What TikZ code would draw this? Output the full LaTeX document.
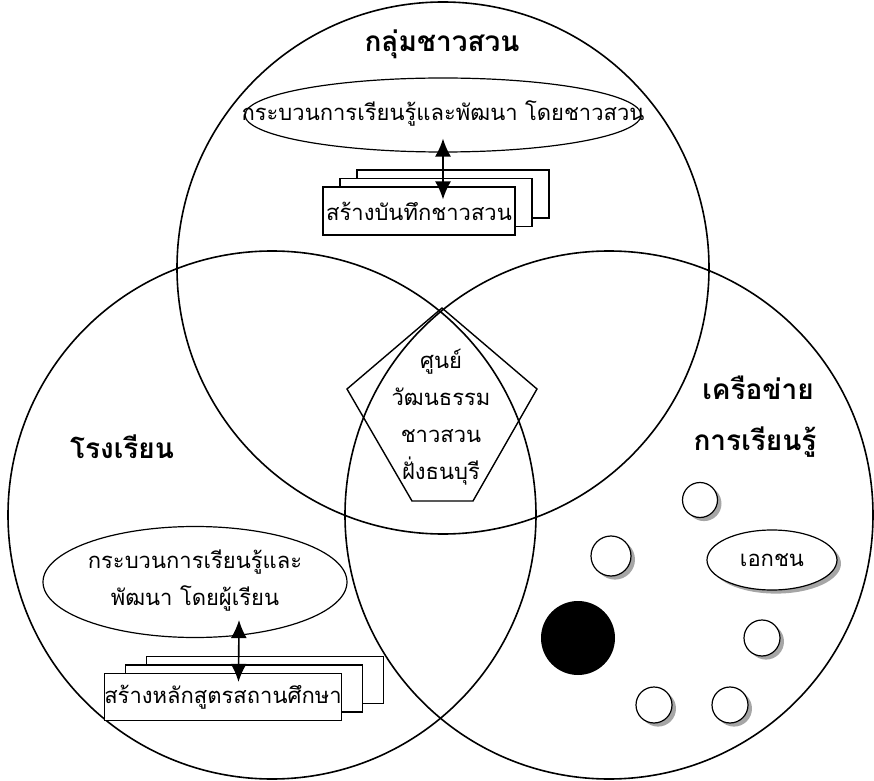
\documentclass[tikz,border=0pt]{standalone}
\usepackage{fontspec}
\newfontfamily\thaifont[Script=Thai]{Loma}
\usetikzlibrary{arrows.meta}
\usetikzlibrary{shapes.geometric}
\usetikzlibrary{shadows}

\tikzset{
  ring/.style={line width=0.8pt},
  heading/.style={font=\thaifont\bfseries\fontsize{14}{26}\selectfont},
  body/.style={font=\thaifont\fontsize{11}{18.5}\selectfont, align=center, inner sep=0pt},
  bubble/.style={draw, ellipse, line width=0.6pt, inner sep=0pt},
  twoway/.style={{Latex[length=9pt,width=8pt]}-{Latex[length=9pt,width=8pt]}, line width=0.8pt},
  pile/.style 2 args={draw, fill=white, line width=0.6pt, inner sep=0pt,
    general shadow={shadow xshift=2*#1, shadow yshift=2*#2, draw, fill=white},
    general shadow={shadow xshift=#1, shadow yshift=#2, draw, fill=white}},
  fuzz/.style={drop shadow={shadow xshift=2pt, shadow yshift=-1.8pt, fill=black!35, opacity=1}},
  dot/.style={circle, draw, fill=white, line width=0.6pt, minimum size=#1, inner sep=0pt, fuzz},
  dot/.default=18pt
}

\begin{document}
\begin{tikzpicture}[x=0.5pt,y=-0.5pt]
    \useasboundingbox (0,0) rectangle (874,781);
    \def\rT{133pt} % top circle
    \def\rS{132pt} % lower circles
    \coordinate (cT) at (443,268);
    \coordinate (cL) at (272,515);
    \coordinate (cR) at (609,515);
    \draw[ring] (cT) circle[radius=\rT];
    \draw[ring] (cL) circle[radius=\rS];
    \draw[ring] (cR) circle[radius=\rS];

    % centre pentagon
    \coordinate (p1) at (442,308);
    \coordinate (p2) at (537,389);
    \coordinate (p3) at (473,501);
    \coordinate (p4) at (412,501);
    \coordinate (p5) at (347,389);
    \draw[line width=0.7pt] (p1) -- (p2) -- (p3) -- (p4) -- (p5) -- cycle;
    \node[body] (centre) at (441,417) {ศูนย์\\วัฒนธรรม\\ชาวสวน\\ฝั่งธนบุรี};

    % gardeners
    \node[heading] (gardeners) at (442,44) {กลุ่มชาวสวน};
    \node[bubble, minimum width=198pt, minimum height=37pt] (eG) at (443,115) {};
    \node[body] (tG) at (443,113) {กระบวนการเรียนรู้และพัฒนา โดยชาวสวน};
    \node[body, pile={8.5pt}{4.25pt}, minimum width=96pt, minimum height=24pt] (bG) at (419,211) {สร้างบันทึกชาวสวน};
    \draw[twoway] ([yshift=7pt]eG.south) -- ([xshift=12pt,yshift=-6.5pt]bG.north);

    % school
    \node[heading] (school) at (122,447) {โรงเรียน};
    \node[bubble, minimum width=152pt, minimum height=55.5pt] (eS) at (195,582) {};
    \node[body] (tS) at (195,581) {กระบวนการเรียนรู้และ\\พัฒนา โดยผู้เรียน};
    \node[body, pile={10.5pt}{4.25pt}, minimum width=118.5pt, minimum height=23.5pt] (bS) at (223,697) {สร้างหลักสูตรสถานศึกษา};
    \draw[twoway] ([xshift=22pt,yshift=9pt]eS.south) -- ([xshift=7.75pt,yshift=-4.5pt]bS.north);

    % network
    \node[heading] (net1) at (758,388) {เครือข่าย};
    \node[heading] (net2) at (755,442) {การเรียนรู้};
    \node[dot=17.5pt] (d1) at (700,500) {};
    \node[dot=20pt] (d2) at (611,556) {};
    \node[body, bubble, minimum width=65pt, minimum height=30pt, fill=white, fuzz] (private) at (772,560) {เอกชน};
    \node[circle, fill=black, minimum size=37pt, inner sep=0pt] (d0) at (578,638) {};
    \node[dot] (d3) at (762,638) {};
    \node[dot] (d4) at (654,705) {};
    \node[dot] (d5) at (730,705) {};
\end{tikzpicture}
\end{document}
